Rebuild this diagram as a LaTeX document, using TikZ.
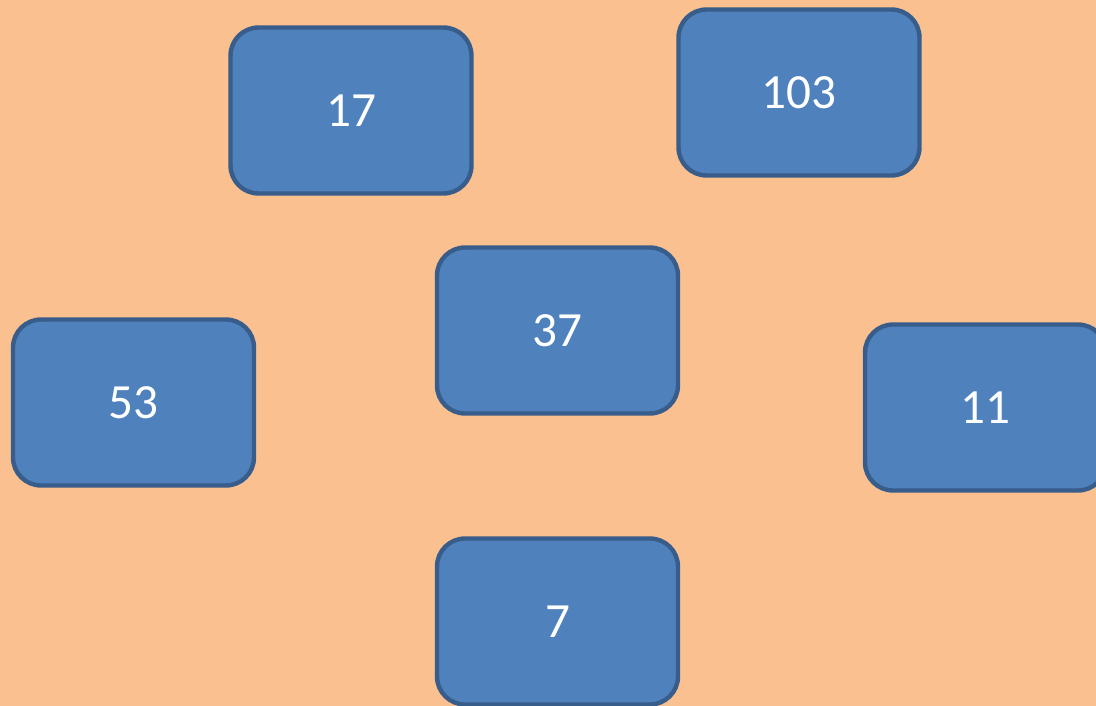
\documentclass[tikz,border=0pt]{standalone}
\usepackage{fontspec}
\setmainfont{Carlito}
\usepackage{xcolor}
\usepackage{tikz}
\usetikzlibrary{positioning}
\definecolor{bgcolor}{RGB}{250, 192, 144}
\definecolor{boxcolor}{RGB}{79, 129, 189}
\definecolor{edgecolor}{RGB}{56, 93, 138}

\begin{document}
\begin{tikzpicture}[
    x=0.02cm, y=-0.02cm,
    font=\fontsize{28}{33}\selectfont,
    % Box style for the numbers
    numbox/.style={rectangle, rounded corners=0.56cm, draw=edgecolor, fill=boxcolor,
      line width=2.5pt, minimum width=4.82cm, minimum height=3.32cm,
      inner sep=0pt, text=white}
]

    % --- BACKGROUND ---
    \useasboundingbox (0, 0) rectangle (1096, 706);
    \clip (0, 0) rectangle (1096, 706);
    \fill[bgcolor] (0, 0) rectangle (1096, 706);

    % --- TOP ROW ---
    \node[numbox] (n17) at (351, 110.5) {17};
    \node[numbox] (n103) at (799, 92.5) {103};

    % --- MIDDLE ROW ---
    \node[numbox] (n53) at (133.5, 402.5) {53};
    \node[numbox] (n37) at (557.5, 330.5) {37};
    \node[numbox] (n11) at (985.5, 407.5) {11};

    % --- BOTTOM ---
    \node[numbox] (n7) at (557.5, 621.5) {7};

\end{tikzpicture}
\end{document}
